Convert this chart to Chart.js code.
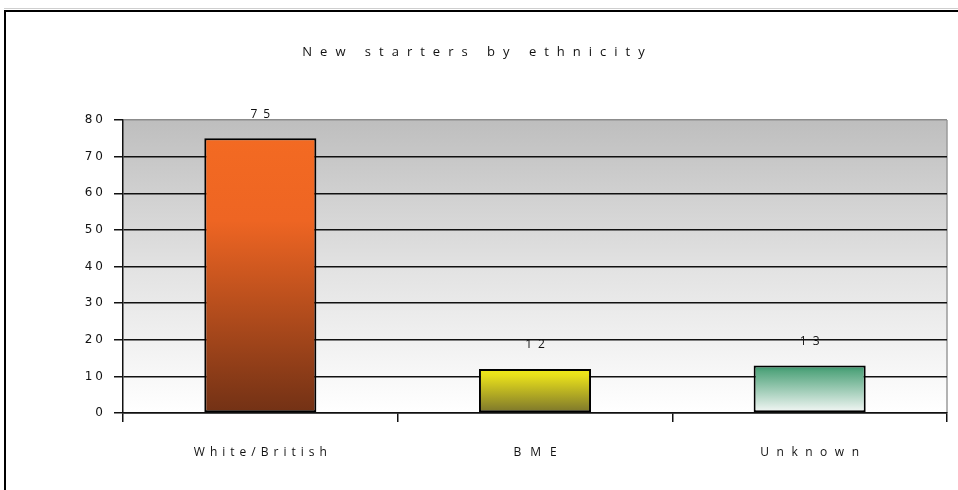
<!DOCTYPE html>
<html>
<head>
<meta charset="utf-8">
<title>New starters by ethnicity</title>
<script src="https://cdn.jsdelivr.net/npm/chart.js@4/dist/chart.umd.min.js"></script>
<style>
  html, body { margin: 0; padding: 0; background: #ffffff; }
  #wrap { position: relative; width: 958px; height: 490px; }
</style>
</head>
<body>
<div id="wrap"><canvas id="chart" width="958" height="490"></canvas></div>
<script>
// ---- data ----
const chartTitle = 'New starters by ethnicity';
const categories = ['White/British', 'BME', 'Unknown'];
const starters = [75, 12, 13];
const yTickValues = [0, 10, 20, 30, 40, 50, 60, 70, 80];

// wide letter spacing (px) used by the headings and labels
const labelSpacing = { 'White/British': 5, 'BME': 9, 'Unknown': 7.5 };
const titleSpacing = 8;
const tickSpacing = 3;
const valueSpacing = 6;

// colour stops of each bar's vertical gradient (top, middle, bottom)
const barTop = ['#f36a22', '#f2ea18', '#32926a'];
const barMid = ['#ee6523', '#e8df1b', '#55a67f'];
const barBottom = ['#723115', '#7a742c', '#f7f9f8'];
const barMidStop = [0.3, 0.15, 0.12];

function spacingFor(text) {
  const t = String(text);
  if (t === chartTitle) return titleSpacing;
  if (labelSpacing[t] !== undefined) return labelSpacing[t];
  if (/^\d+$/.test(t)) return tickSpacing;
  return 0;
}

// draw text with letter spacing, keeping the alignment point where the library puts it
const spacedText = {
  id: 'spacedText',
  afterInit(chart) {
    const ctx = chart.ctx;
    const proto = CanvasRenderingContext2D.prototype;
    ctx.fillText = function (text, x, y) {
      const s = this._forcedSpacing !== undefined ? this._forcedSpacing : spacingFor(text);
      if (!s) return proto.fillText.call(this, text, x, y);
      const prev = this.letterSpacing;
      this.letterSpacing = s + 'px';
      let dx = 0;
      if (this.textAlign === 'center') dx = s / 2;
      else if (this.textAlign === 'right' || this.textAlign === 'end') dx = s;
      proto.fillText.call(this, text, x + dx, y);
      this.letterSpacing = prev;
    };
  }
};

// page frame and the shaded plot background
const plotBackground = {
  id: 'plotBackground',
  beforeDraw(chart) {
    const { ctx, chartArea: a, width, height } = chart;
    ctx.save();
    ctx.fillStyle = '#ffffff';
    ctx.fillRect(0, 0, width, height);
    ctx.fillStyle = '#cfcfcf';
    ctx.fillRect(4, 8, width, 1);
    ctx.fillStyle = '#000000';
    ctx.fillRect(4, 10, width, 2);
    ctx.fillRect(4, 10, 2, height);
    const g = ctx.createLinearGradient(0, a.top, 0, a.bottom);
    g.addColorStop(0, '#bebebe');
    g.addColorStop(0.5, '#e2e2e2');
    g.addColorStop(1, '#ffffff');
    ctx.fillStyle = g;
    ctx.fillRect(a.left, a.top, a.right - a.left, a.bottom - a.top);
    ctx.strokeStyle = '#9a9a9a';
    ctx.lineWidth = 1.5;
    ctx.beginPath();
    ctx.moveTo(a.right, a.top);
    ctx.lineTo(a.right, a.bottom);
    ctx.stroke();
    ctx.restore();
  }
};

// value written above each bar
const valueLabels = {
  id: 'valueLabels',
  afterDatasetsDraw(chart) {
    const ctx = chart.ctx;
    const meta = chart.getDatasetMeta(0);
    ctx.save();
    ctx.font = '12px "Open Sans", sans-serif';
    ctx.fillStyle = '#111111';
    ctx.textAlign = 'center';
    ctx.textBaseline = 'middle';
    ctx._forcedSpacing = valueSpacing;
    meta.data.forEach((bar, i) => {
      ctx.fillText(String(starters[i]), bar.x, bar.y - 24);
    });
    ctx._forcedSpacing = undefined;
    ctx.restore();
  }
};

function barFill(c) {
  const chart = c.chart;
  const i = c.dataIndex;
  if (!chart.chartArea || i === undefined) return barTop[i || 0];
  const y = chart.scales.y;
  const top = y.getPixelForValue(starters[i]);
  const bottom = y.getPixelForValue(0);
  const g = chart.ctx.createLinearGradient(0, top, 0, bottom);
  g.addColorStop(0, barTop[i]);
  g.addColorStop(barMidStop[i], barMid[i]);
  g.addColorStop(1, barBottom[i]);
  return g;
}

new Chart(document.getElementById('chart'), {
  type: 'bar',
  data: {
    labels: categories,
    datasets: [{
      data: starters,
      backgroundColor: barFill,
      borderColor: '#000000',
      borderWidth: 2,
      borderSkipped: false,
      categoryPercentage: 1,
      barPercentage: 0.408
    }]
  },
  plugins: [spacedText, plotBackground, valueLabels],
  options: {
    responsive: false,
    animation: false,
    devicePixelRatio: 1,
    layout: { padding: { left: 0, right: 11, top: 0, bottom: 0 } },
    plugins: {
      legend: { display: false },
      tooltip: { enabled: false },
      title: {
        display: true,
        text: chartTitle,
        color: '#111111',
        font: { family: '"Open Sans", sans-serif', size: 13, weight: 'normal', lineHeight: 1.2 },
        padding: { top: 44, bottom: 60.4 }
      }
    },
    scales: {
      x: {
        grid: {
          offset: true,
          drawOnChartArea: false,
          drawTicks: true,
          tickLength: 9,
          color: '#111111',
          lineWidth: 1.5
        },
        border: { color: '#111111', width: 1.5 },
        ticks: {
          color: '#111111',
          padding: 23,
          font: { family: '"Open Sans", sans-serif', size: 12 }
        },
        afterFit(scale) { scale.height = 77; }
      },
      y: {
        min: 0,
        max: 80,
        afterBuildTicks(scale) { scale.ticks = yTickValues.map(v => ({ value: v })); },
        grid: {
          color: c => (c.tick && c.tick.value === 80 ? '#8c8c8c' : '#111111'),
          lineWidth: 1.5,
          drawTicks: true,
          tickLength: 9,
          tickColor: '#111111'
        },
        border: { color: '#111111', width: 1.5 },
        ticks: {
          color: '#111111',
          padding: 11,
          font: { family: '"DejaVu Sans", sans-serif', size: 12 }
        },
        afterFit(scale) { scale.width = 123; }
      }
    }
  }
});
</script>
</body>
</html>
